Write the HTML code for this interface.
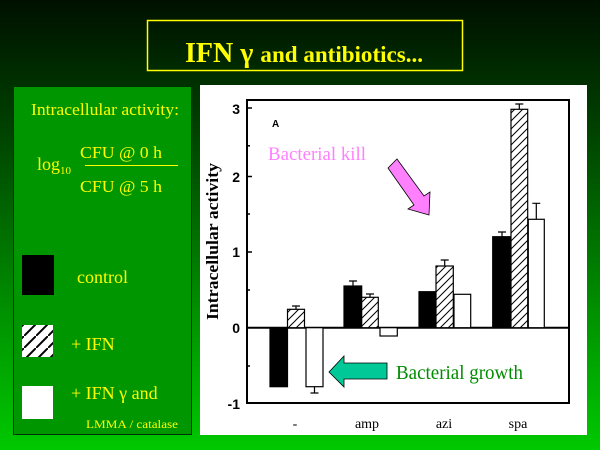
<!DOCTYPE html>
<html><head><meta charset="utf-8"><style>html,body{margin:0;padding:0;width:600px;height:450px;overflow:hidden}</style></head>
<body>
<svg width="600" height="450" xmlns="http://www.w3.org/2000/svg">
<defs>
<linearGradient id="bg" x1="0" y1="0" x2="0" y2="1">
<stop offset="0" stop-color="#001000"/><stop offset="0.3" stop-color="#004400"/><stop offset="0.7" stop-color="#009200"/><stop offset="1" stop-color="#00c800"/>
</linearGradient>
<pattern id="h" width="8" height="8" patternUnits="userSpaceOnUse">
<rect width="8" height="8" fill="#fff"/><path d="M-2,10 L10,-2 M-2,2 L2,-2 M6,10 L10,6" stroke="#000" stroke-width="1"/>
</pattern>
<pattern id="h2" width="12" height="12" patternUnits="userSpaceOnUse">
<rect width="12" height="12" fill="#fff"/><path d="M-2,14 L14,-2" stroke="#000" stroke-width="2"/>
</pattern>
</defs>
<rect width="600" height="450" fill="url(#bg)"/>
<rect x="147.5" y="20.5" width="315" height="50" fill="none" stroke="#ffff00" stroke-width="1.5"/>
<text x="185" y="62" font-family="Liberation Serif" font-weight="bold" font-size="28" fill="#ffff00" textLength="238" lengthAdjust="spacingAndGlyphs">IFN γ <tspan font-size="23">and antibiotics...</tspan></text>

<rect x="13.5" y="86.5" width="178" height="348" fill="#009600" stroke="#003000" stroke-width="1"/>
<g font-family="Liberation Serif" fill="#ffff00">
<text x="31" y="115" font-size="17" textLength="148" lengthAdjust="spacingAndGlyphs">Intracellular activity:</text>
<text x="37" y="170" font-size="18">log<tspan font-size="11" dy="4">10</tspan></text>
<text x="80" y="158" font-size="17" textLength="82" lengthAdjust="spacingAndGlyphs">CFU @ 0 h</text>
<line x1="85" y1="165.5" x2="178" y2="165.5" stroke="#ffff00" stroke-width="1"/>
<text x="80" y="192" font-size="17" textLength="82" lengthAdjust="spacingAndGlyphs">CFU @ 5 h</text>
<text x="77" y="283" font-size="18">control</text>
<text x="71" y="350" font-size="18">+ IFN</text>
<text x="71" y="399" font-size="18">+ IFN γ and</text>
<text x="86" y="428" font-size="12" textLength="92" lengthAdjust="spacingAndGlyphs">LMMA / catalase</text>
</g>
<rect x="22" y="255" width="32" height="40" fill="#000"/>
<rect x="22" y="325" width="31" height="32" fill="url(#h2)"/>
<rect x="22" y="386" width="31" height="33" fill="#fff"/>

<rect x="200" y="85" width="387" height="350" fill="#fff"/>
<g stroke="#000" stroke-width="2" fill="none">
<path d="M247,100 H569 V403 H247 Z"/>
<line x1="247" y1="327.7" x2="569" y2="327.7"/>
</g>
<g stroke="#000" stroke-width="1.5">
<line x1="247" y1="108" x2="252" y2="108"/><line x1="247" y1="145.8" x2="250" y2="145.8"/>
<line x1="247" y1="176.5" x2="252" y2="176.5"/><line x1="247" y1="214" x2="250" y2="214"/>
<line x1="247" y1="252" x2="252" y2="252"/><line x1="247" y1="290" x2="250" y2="290"/>
<line x1="247" y1="366" x2="250" y2="366"/>
</g>
<g font-family="Liberation Sans" font-weight="bold" font-size="14" text-anchor="end">
<text x="240" y="114">3</text><text x="240" y="182">2</text><text x="240" y="257">1</text><text x="240" y="333">0</text><text x="240" y="409">-1</text>
</g>
<text transform="translate(218,320) rotate(-90)" font-family="Liberation Serif" font-weight="bold" font-size="17" textLength="157" lengthAdjust="spacingAndGlyphs">Intracellular activity</text>
<text x="272" y="127" font-family="Liberation Sans" font-weight="bold" font-size="10">A</text>
<g font-family="Liberation Serif" font-size="14" text-anchor="middle">
<text x="295" y="428">-</text><text x="367" y="428">amp</text><text x="444" y="428">azi</text><text x="518" y="428">spa</text>
</g>
<g stroke="#000" stroke-width="1.2">
<rect x="270" y="327.7" width="17.5" height="59" fill="#000"/>
<rect x="287.5" y="309.3" width="17" height="18.4" fill="url(#h)"/>
<rect x="306" y="327.7" width="17" height="59" fill="#fff"/>
<rect x="344" y="286" width="17.7" height="41.7" fill="#000"/>
<rect x="361.7" y="297.3" width="16.6" height="30.4" fill="url(#h)"/>
<rect x="380" y="327.7" width="17.3" height="8.3" fill="#fff"/>
<rect x="419" y="291.7" width="17" height="36" fill="#000"/>
<rect x="436" y="266" width="17.3" height="61.7" fill="url(#h)"/>
<rect x="454" y="294.3" width="16.7" height="33.4" fill="#fff"/>
<rect x="492.7" y="236.7" width="18.3" height="91" fill="#000"/>
<rect x="511" y="109.3" width="16.7" height="218.4" fill="url(#h)"/>
<rect x="528.3" y="219.3" width="16" height="108.4" fill="#fff"/>
</g>
<g stroke="#000" stroke-width="1.2" fill="none">
<path d="M296,309 V306 M292,306 H300"/>
<path d="M314.5,387 V393 M310.5,393 H318.5"/>
<path d="M353,286 V281 M349,281 H357"/>
<path d="M370,297 V294 M366,294 H374"/>
<path d="M444.7,266 V260 M440.7,260 H448.7"/>
<path d="M502,236.7 V232 M498,232 H506"/>
<path d="M519.3,109 V104 M515.3,104 H523.3"/>
<path d="M536.3,219 V203.3 M532.3,203.3 H540.3"/>
</g>
<text x="268" y="160" font-family="Liberation Serif" font-size="19" fill="#ff80ff" textLength="98" lengthAdjust="spacingAndGlyphs">Bacterial kill</text>
<polygon points="388,168 397,159 424,196 430,192 429,215 408,209 414,205" fill="#ff80ff" stroke="#000" stroke-width="0.8"/>
<polygon points="329,372 344,356 344,363 387,363 387,379 344,379 344,387" fill="#00c896" stroke="#000" stroke-width="0.8"/>
<text x="396" y="379" font-family="Liberation Serif" font-size="20" fill="#008c00" textLength="127" lengthAdjust="spacingAndGlyphs">Bacterial growth</text>
</svg>
</body></html>
